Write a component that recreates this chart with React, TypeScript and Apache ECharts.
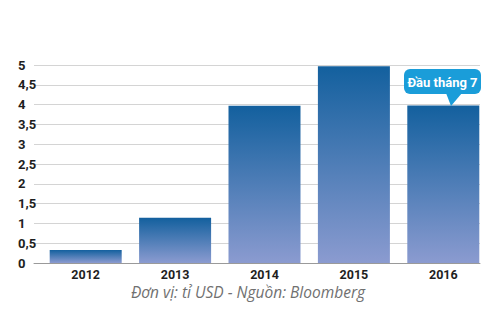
import React, { useEffect, useRef } from "react";
import * as echarts from "echarts";

const years = ["2012", "2013", "2014", "2015", "2016"];
const values = [0.33, 1.14, 3.97, 4.97, 3.98];
const yTicks = ["0", "0,5", "1", "1,5", "2", "2,5", "3", "3,5", "4", "4,5", "5"];
const calloutText = "Đầu tháng 7";
const caption = "Đơn vị: tỉ USD - Nguồn: Bloomberg";

const FONT = "Roboto, 'Noto Sans', sans-serif";

export default function App() {
  const ref = useRef<HTMLDivElement>(null);
  useEffect(() => {
    if (!ref.current) return;
    const chart = echarts.init(ref.current, null, { renderer: "svg" });
    const top = 65;
    const bottom = 67;
    chart.setOption({
      animation: false,
      backgroundColor: "#ffffff",
      grid: [
        { left: 34, right: 20, top, bottom },
        { left: 41, right: 12, top, bottom },
      ],
      xAxis: [
        {
          gridIndex: 0,
          type: "category",
          data: years,
          axisLine: { show: true, lineStyle: { color: "#9a9a9a", width: 1 } },
          axisTick: { show: false },
          axisLabel: { show: false },
        },
        {
          gridIndex: 1,
          type: "category",
          data: years,
          axisLine: { show: false },
          axisTick: { show: false },
          axisLabel: {
            margin: 5,
            fontFamily: FONT,
            fontWeight: "bold",
            fontSize: 12.5,
            lineHeight: 13,
            color: "#1e1e1e",
          },
        },
      ],
      yAxis: [
        {
          gridIndex: 0,
          type: "value",
          min: 0,
          max: 5,
          interval: 0.5,
          axisLine: { show: false },
          axisTick: { show: false },
          splitLine: { lineStyle: { color: "#d4d4d4", width: 1 } },
          axisLabel: {
            align: "left",
            margin: 16,
            fontFamily: FONT,
            fontWeight: "bold",
            fontSize: 13,
            color: "#1e1e1e",
            formatter: (v: number) => yTicks[Math.round(v * 2)] ?? "",
          },
        },
        {
          gridIndex: 1,
          type: "value",
          min: 0,
          max: 5,
          interval: 0.5,
          show: false,
        },
      ],
      series: [
        {
          type: "bar",
          xAxisIndex: 1,
          yAxisIndex: 1,
          data: values,
          barWidth: 72,
          itemStyle: {
            color: new echarts.graphic.LinearGradient(0, 0, 0, 1, [
              { offset: 0, color: "#13609e" },
              { offset: 1, color: "#8b9bd0" },
            ]),
          },
        },
      ],
      graphic: [
        {
          type: "group",
          z: 100,
          children: [
            {
              type: "rect",
              z: 100,
              shape: { x: 404, y: 69, width: 77, height: 25, r: 6 },
              style: { fill: "#1a9dd9" },
            },
            {
              type: "polygon",
              z: 100,
              shape: { points: [[446, 93], [462, 93], [451, 106]] },
              style: { fill: "#1a9dd9" },
            },
            {
              type: "text",
              z: 101,
              x: 442.5,
              y: 82,
              style: {
                text: calloutText,
                fill: "#ffffff",
                font: `bold 13px ${FONT}`,
                textAlign: "center",
                textVerticalAlign: "middle",
              },
            },
          ],
        },
        {
          type: "text",
          x: 248,
          y: 283,
          style: {
            text: caption,
            fill: "#707070",
            font: "italic 15.5px 'Open Sans', 'Noto Sans', sans-serif",
            textAlign: "center",
            textVerticalAlign: "top",
            lineHeight: 17,
          },
        },
      ],
    });
    return () => chart.dispose();
  }, []);
  return (
    <div
      ref={ref}
      style={{ position: "absolute", left: 0, top: 0, width: 500, height: 330 }}
    />
  );
}
